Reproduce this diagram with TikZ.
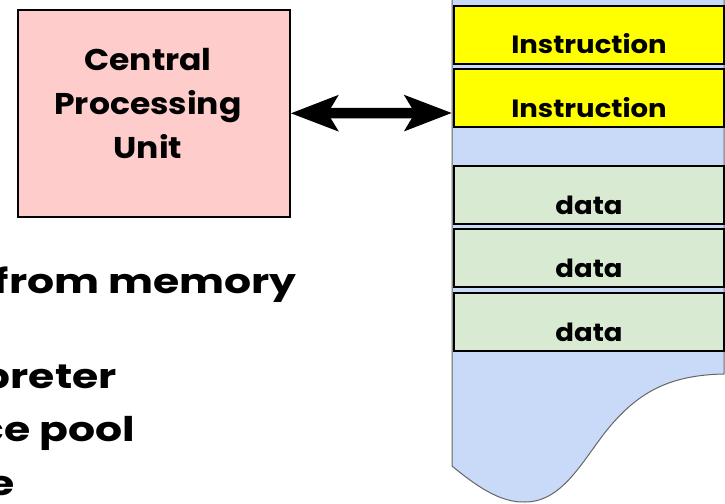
\documentclass[tikz,border=0pt]{standalone}
\usepackage{fontspec}
\newfontfamily\handfont[FakeStretch=1.1]{Poppins}
\newfontfamily\handwide[FakeStretch=1.25]{Poppins}
\usetikzlibrary{arrows.meta}

\definecolor{cpupink}{HTML}{FFCCCC}
\definecolor{memblue}{HTML}{C9DAF8}
\definecolor{instryellow}{HTML}{FFFF00}
\definecolor{datagreen}{HTML}{D9EAD3}
\definecolor{edgegray}{HTML}{666666}

\tikzset{
  cell/.style={draw=black, line width=2pt, minimum width=270pt, minimum height=58pt,
               anchor=north west, inner sep=0pt, text height=38pt, text depth=0pt,
               font=\handfont\bfseries\fontsize{25}{27}\selectfont},
  instrcell/.style={cell, fill=instryellow},
  datacell/.style={cell, fill=datagreen},
  listtext/.style={anchor=base east, inner sep=0pt,
                   font=\handwide\bfseries\fontsize{34}{36}\selectfont},
  bus/.style={line width=10.5pt,
              {Stealth[length=47pt, width=35pt, inset=10pt]}-{Stealth[length=47pt, width=35pt, inset=10pt]}},
}

\begin{document}
\begin{tikzpicture}[x=1pt, y=-1pt]
  \useasboundingbox (0,0) rectangle (725,503);
  \begin{scope}
    \clip (0,0) rectangle (725,503);

    % processor box
    \node[draw=black, line width=1.6pt, fill=cpupink, minimum width=272pt, minimum height=207pt,
          anchor=north west, inner sep=0pt] (cpu) at (17,9) {};
    \node[align=center, font=\handfont\bfseries\fontsize{30}{44}\selectfont] (cputext) at (148,104)
      {Central\\Processing\\Unit};

    % memory column with wavy bottom
    \draw[edgegray, line width=1pt, fill=memblue]
      (452,-5) -- (452,466)
      .. controls (475,485) and (500,503) .. (525,502)
      .. controls (565,502) and (585,455) .. (612,424)
      .. controls (640,392) and (670,375) .. (724,374)
      -- (724,-5);
    \coordinate (memwest) at (452,113);

    \node[instrcell] (instr1) at (453,5) {Instruction};
    \node[instrcell] (instr2) at (453,68) {Instruction};
    \node[datacell] (data1) at (453,165) {data};
    \node[datacell] (data2) at (453,228) {data};
    \node[datacell] (data3) at (453,292) {data};

    % bus between processor and memory
    \draw[bus] (cpu.east) -- (memwest);

    % list text running off the left edge
    \node[listtext] (l1) at (297,293) {from memory};
    \node[listtext] (l2) at (117,388) {preter};
    \node[listtext] (l3) at (135,441) {ce pool};
    \node[listtext] (l4) at (15,495) {e};
  \end{scope}
\end{tikzpicture}
\end{document}
